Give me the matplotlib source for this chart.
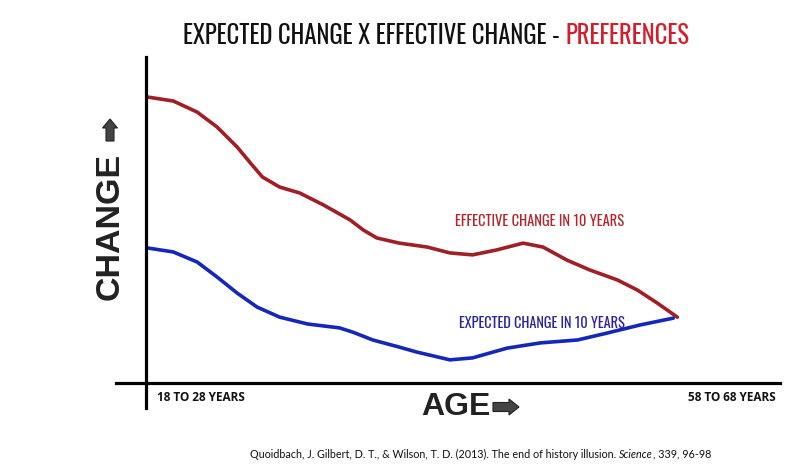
import matplotlib
matplotlib.use("Agg")
import matplotlib.pyplot as plt
from matplotlib.lines import Line2D
from matplotlib.patches import FancyArrow

# age (midpoint of the 10-year bracket) and change index
eff_age = [23.0, 24.9, 26.7, 28.2, 29.7, 30.7, 31.6, 32.9, 34.4, 36.2, 38.2, 39.2,
           40.2, 41.9, 44.0, 45.7, 47.4, 49.2, 51.2, 52.7, 54.5, 56.2, 58.3, 59.8,
           61.3, 62.8]
eff_change = [87.7, 86.5, 83.1, 78.5, 72.4, 67.5, 63.2, 60.1, 58.3, 54.6, 50.0, 46.9,
              44.5, 42.9, 41.7, 39.9, 39.3, 40.8, 42.9, 41.7, 37.7, 34.7, 31.6, 28.5,
              24.5, 20.2]

exp_age = [23.0, 24.9, 26.7, 28.2, 29.7, 31.2, 32.9, 35.0, 37.4, 38.4, 39.9, 41.9,
           43.2, 45.7, 47.4, 50.0, 52.5, 55.3, 57.5, 60.0, 62.5]
exp_change = [41.4, 40.2, 37.1, 32.5, 27.6, 23.3, 20.2, 18.1, 16.9, 15.6, 13.2, 11.0,
              9.5, 7.1, 7.7, 10.7, 12.3, 13.2, 15.3, 17.8, 19.9]

x_labels = ["18 TO 28 YEARS", "58 TO 68 YEARS"]

W, H = 800, 469
fig = plt.figure(figsize=(8, 4.69), dpi=100)
fig.patch.set_facecolor("white")
renderer = fig.canvas.get_renderer()


def fx(px):
    return px / W


def fy(py):
    return 1 - py / H


def fit(txt, width_px):
    # scale font so the text spans the given pixel width
    w = txt.get_window_extent(renderer).width
    txt.set_fontsize(txt.get_fontsize() * width_px / w)
    return txt


ax = fig.add_axes([fx(146), fy(383), fx(780) - fx(146), fy(57) - fy(383)])
ax.set_xlim(22.85, 70.52)
ax.set_ylim(0, 100)
ax.axis("off")

ax.plot(eff_age, eff_change, color="#a11f24", lw=2.6, solid_capstyle="round",
        solid_joinstyle="round")
ax.plot(exp_age, exp_change, color="#1327bb", lw=2.6, solid_capstyle="round",
        solid_joinstyle="round")

# axis lines
fig.add_artist(Line2D([fx(146), fx(146)], [fy(57), fy(408)], color="black", lw=2.3))
fig.add_artist(Line2D([fx(116), fx(780)], [fy(383), fy(383)], color="black", lw=2.3))

narrow = ["Oswald", "Roboto Condensed", "Barlow Semi Condensed", "DejaVu Sans"]
myriad = ["Lato", "PT Sans", "DejaVu Sans"]

# title in two colours
t1 = fig.text(fx(183), fy(36), "EXPECTED CHANGE X EFFECTIVE CHANGE - ", family=narrow,
              fontsize=19, fontweight="semibold", color="#111111", va="center", ha="left")
t2 = fig.text(fx(183), fy(36), "PREFERENCES", family=narrow, fontsize=19,
              fontweight="semibold", color="#d21f2b", va="center", ha="left")
w1 = t1.get_window_extent(renderer).width
w2 = t2.get_window_extent(renderer).width
k = (690 - 183) / (w1 + w2)
t1.set_fontsize(19 * k)
t2.set_fontsize(19 * k)
t2.set_x((183 + w1 * k) / W)

# axis titles
fig.text(fx(110.5), fy(226), "CHANGE", family="Liberation Sans", fontweight="bold",
         fontsize=24.5, rotation=90, color="#222222", ha="center", va="center")
fig.text(fx(456), fy(407), "AGE", family="Liberation Sans", fontweight="bold",
         fontsize=23, color="#222222", ha="center", va="center")

inch = fig.dpi_scale_trans
ax_up = FancyArrow(110 / 100, (H - 141) / 100, 0, 22 / 100, width=8 / 100,
                   head_width=15 / 100, head_length=9 / 100,
                   length_includes_head=True, transform=inch,
                   facecolor="#444444", edgecolor="#222222", lw=0.8)
ax_right = FancyArrow(493 / 100, (H - 407) / 100, 26 / 100, 0, width=9 / 100,
                      head_width=16 / 100, head_length=10 / 100,
                      length_includes_head=True, transform=inch,
                      facecolor="#444444", edgecolor="#222222", lw=0.8)
fig.add_artist(ax_up)
fig.add_artist(ax_right)

# end labels
fit(fig.text(fx(157), fy(397), x_labels[0], family="Open Sans", fontweight="bold",
             fontsize=8, color="#111111", ha="left", va="center"), 88)
fit(fig.text(fx(776), fy(397), x_labels[1], family="Open Sans", fontweight="bold",
             fontsize=8, color="#111111", ha="right", va="center"), 88)

# series labels
fit(fig.text(fx(540), fy(222), "EFFECTIVE CHANGE IN 10 YEARS", family=narrow,
             fontsize=11, color="#b3262b", ha="center", va="center"), 170)
fit(fig.text(fx(541.5), fy(323), "EXPECTED CHANGE IN 10 YEARS", family=narrow,
             fontsize=11, color="#2a23a3", ha="center", va="center"), 167)

# citation
parts = [("Quoidbach, J. Gilbert, D. T., & Wilson, T. D. (2013). The end of history illusion. ",
          "normal"), ("Science", "italic"), (", 339, 96-98", "normal")]
cite = [fig.text(0, fy(454), s, family=myriad, style=st, fontweight="normal",
                 fontsize=9, color="#111111", ha="left", va="center") for s, st in parts]
total = sum(c.get_window_extent(renderer).width for c in cite)
size = 9 * (715 - 250) / total
x = 250
for c in cite:
    c.set_fontsize(size)
    c.set_x(x / W)
    x += c.get_window_extent(renderer).width

fig.savefig("out.png", dpi=100)
